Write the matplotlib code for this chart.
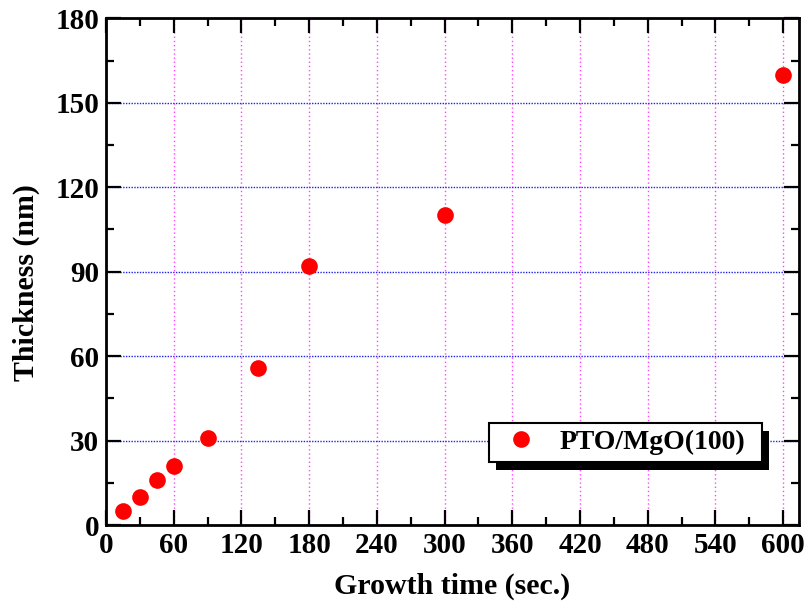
import matplotlib
matplotlib.use("Agg")
import matplotlib.pyplot as plt
from matplotlib.patches import Rectangle
from matplotlib.ticker import MultipleLocator

# growth time (s) vs film thickness (nm)
growth_time = [15, 30, 45, 60, 90, 135, 180, 300, 600]
thickness = [5, 10, 16, 21, 31, 56, 92, 110, 160]
series_label = "PTO/MgO(100)"

plt.rcParams['font.family'] = ['Liberation Serif', 'DejaVu Serif']
plt.rcParams['font.weight'] = 'bold'

fig = plt.figure(figsize=(8.05, 6.13), dpi=100)
ax = fig.add_axes([0.1317, 0.1432, 0.8608, 0.8270])

ax.plot(growth_time, thickness, 'o', color='red', markersize=12,
        markeredgewidth=0, label=series_label, zorder=5)

ax.set_xlim(0, 614)
ax.set_ylim(0, 180)
ax.xaxis.set_major_locator(MultipleLocator(60))
ax.xaxis.set_minor_locator(MultipleLocator(30))
ax.yaxis.set_major_locator(MultipleLocator(30))
ax.yaxis.set_minor_locator(MultipleLocator(15))

ax.tick_params(which='both', direction='in', top=True, right=True,
               width=1.6, labelsize=21)
ax.tick_params(which='major', length=11, pad=5)
ax.tick_params(which='minor', length=6)
for lab in ax.get_xticklabels() + ax.get_yticklabels():
    lab.set_fontweight('bold')
for s in ax.spines.values():
    s.set_linewidth(2)

ax.grid(axis='x', which='major', color='#ff44ff', linestyle=(0, (1, 2)), linewidth=1)
ax.grid(axis='y', which='major', color='#2222ee', linestyle=(0, (1, 1)), linewidth=1)

ax.set_xlabel('Growth time (sec.)', fontsize=21.5, fontweight='bold', labelpad=10)
ax.set_ylabel('Thickness (nm)', fontsize=21.5, fontweight='bold')
ax.yaxis.set_label_coords(-0.095, 0.478)

leg = ax.legend(loc='lower right', bbox_to_anchor=(0.932, 0.1247), fontsize=20,
                frameon=False, handlelength=1.0, handletextpad=0.87,
                borderpad=0.25, borderaxespad=0)
leg.set_zorder(11)

# legend box drawn by hand: wider side padding plus a hard black drop shadow
fig.canvas.draw()
bb = leg.get_window_extent()
pad_l, pad_r = 11, 10
x0, x1 = bb.x0 - pad_l, bb.x1 + pad_r
inv = fig.transFigure.inverted()
(fx0, fy0), (fx1, fy1) = inv.transform([(x0, bb.y0), (x1, bb.y1)])
dx, dy = 7 / 805, 8 / 613
shadow = Rectangle((fx0 + dx, fy0 - dy), fx1 - fx0, fy1 - fy0,
                   transform=fig.transFigure, facecolor='black',
                   edgecolor='none', zorder=9, clip_on=False)
frame = Rectangle((fx0, fy0), fx1 - fx0, fy1 - fy0,
                  transform=fig.transFigure, facecolor='white',
                  edgecolor='black', linewidth=1.5, zorder=10, clip_on=False)
ax.add_artist(shadow)
ax.add_artist(frame)

fig.savefig('out.png', dpi=100)
